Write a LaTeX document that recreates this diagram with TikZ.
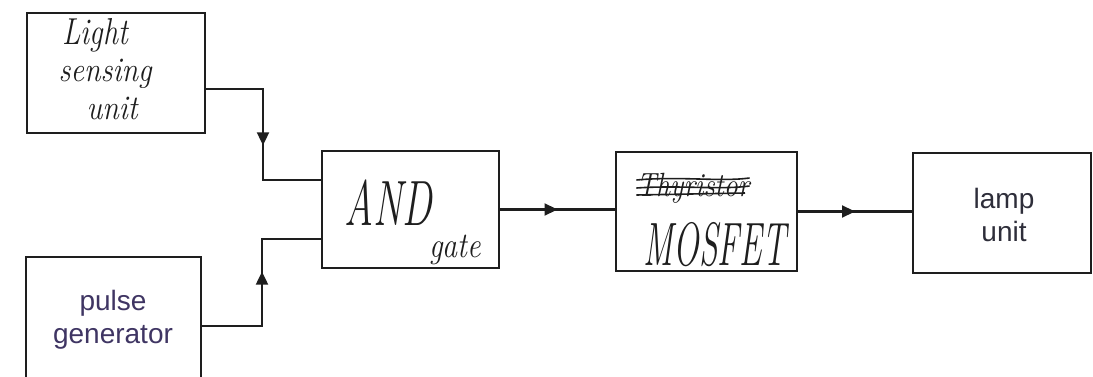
\documentclass[tikz,border=0pt]{standalone}
\usepackage{fontspec}
\newfontfamily\typedfont{Liberation Sans}
\usetikzlibrary{arrows.meta,decorations.markings}
\definecolor{inkc}{HTML}{1E1E1E}
\definecolor{pulsec}{HTML}{3F3563}
\definecolor{lampc}{HTML}{2E2E3A}
\begin{document}
\begin{tikzpicture}[x=1pt,y=-1pt,
  blk/.style={draw=inkc, line width=2.2pt, rectangle, inner sep=0pt},
  hand/.style={font=\fontsize{30}{34}\selectfont\itshape, text=inkc, inner sep=0pt},
  typedtxt/.style={font=\typedfont\fontsize{28}{33}\selectfont, align=center, inner sep=0pt},
  wire/.style={line width=2.2pt, draw=inkc},
  arrowat/.style={postaction={decorate}, decoration={markings, mark=at position #1 with {\arrow[inkc]{Triangle[length=13pt,width=12pt]}}}},
  strike/.style={line width=1.6pt, draw=inkc}
]
\clip (0,0) rectangle (1093,377);
\fill[white] (0,0) rectangle (1093,377);

% boxes
\node[blk, minimum width=178pt, minimum height=120pt] (ls) at (116,73) {};
\node[blk, minimum width=175pt, minimum height=140pt] (pg) at (113.5,327) {};
\node[blk, minimum width=177pt, minimum height=117pt] (and) at (410.5,209.5) {};
\node[blk, minimum width=181pt, minimum height=119pt] (mos) at (706.5,211.5) {};
\node[blk, minimum width=178pt, minimum height=120pt] (lamp) at (1002,213) {};

% handwritten labels
\node[hand] (t1) at (95,35) {\scalebox{1}[1.25]{Light}};
\node[hand] (t2) at (105,74) {\scalebox{1}[1.15]{sensing}};
\node[hand] (t3) at (112,108) {\scalebox{1}[1.15]{unit}};
\node[hand, font=\fontsize{40}{44}\selectfont\itshape] (t4) at (388,203) {\scalebox{1}[1.6]{AND}};
\node[hand] (t5) at (455,250) {\scalebox{1}[1.2]{gate}};
\node[hand, font=\fontsize{28}{30}\selectfont\itshape] (t6) at (693,188) {\scalebox{1}[1.2]{Thyristor}};
\node[hand, font=\fontsize{34}{38}\selectfont\itshape] (t7) at (715,245) {\scalebox{1}[1.8]{MOSFET}};
\draw[strike] (t6.west |- 0,180) .. controls (680,176) and (720,182) .. (t6.east |- 0,178);
\draw[strike] (t6.west |- 0,188) .. controls (680,185) and (720,190) .. (t6.east |- 0,186);
\draw[strike] (t6.west |- 0,195) -- (745,193);

% typed labels
\node[typedtxt, text=pulsec] (t8) at (113,320) {pulse\\generator};
\node[typedtxt, text=lampc] (t9) at (1004,215) {lamp\\unit};

% connectors
\coordinate (j1) at (263,89);
\coordinate (j2) at (263,180);
\coordinate (j3) at (262,326);
\coordinate (j4) at (262,239);
\draw[wire, arrowat=0.55] (ls.east |- j1) -- (j1) -- (j2) -- (and.west |- j2);
\draw[wire, arrowat=0.555] (pg.east |- j3) -- (j3) -- (j4) -- (and.west |- j4);
\draw[wire, arrowat=0.5] (and.east) -- (mos.west |- and.east);
\draw[wire, arrowat=0.5] (mos.east) -- (lamp.west |- mos.east);
\end{tikzpicture}
\end{document}
